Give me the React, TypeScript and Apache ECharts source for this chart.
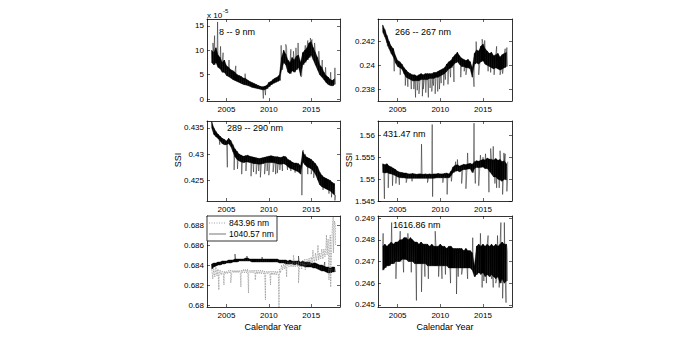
import React, { useEffect, useRef } from "react";
import * as echarts from "echarts";

const T0 = 2003.25;
const DT = 0.25;
const X_MIN = 2002.7;
const X_MAX = 2018.4;
const yearTicks = [2005, 2010, 2015];

// Panel 1: 8 -- 9 nm (units of 1e-5)
const p1Hi = [10, 9.5, 10.5, 9, 8.5, 7.5, 8, 6.8, 6.5, 6, 5.8, 5.5, 5, 4.8, 4.6, 4.3, 4.2, 3.9, 3.6, 3.4, 3.2, 3.0, 2.8, 2.6, 2.5, 2.6, 2.8, 3.4, 3.6, 4.0, 4.3, 4.5, 5.0, 8.5, 10, 9.2, 8.0, 7.5, 8.5, 8.0, 8.8, 9, 7.5, 9.5, 10, 10.5, 11.5, 11.8, 10.5, 9.5, 8.5, 7, 6.5, 5.5, 4.8, 4.5, 4.0, 3.8, 4.2];
const p1Lo = [7.5, 7, 7.5, 6.5, 6.2, 5.5, 5.5, 4.8, 4.6, 4.3, 4.0, 3.8, 3.6, 3.4, 3.2, 3.0, 2.9, 2.8, 2.6, 2.4, 2.3, 2.2, 2.1, 2.0, 1.9, 1.9, 2.1, 2.5, 2.9, 3.2, 3.4, 3.6, 3.8, 6.0, 7.5, 7.0, 5.5, 5.2, 5.8, 5.5, 6.0, 6.5, 4.8, 7.0, 7.5, 8.0, 8.5, 9.0, 8.0, 7.0, 6.0, 5.0, 4.5, 4.0, 3.4, 3.0, 2.8, 2.7, 3.0];
const p1Spikes = [[2003.4, 11.5], [2003.6, 13.0], [2003.95, 15.8], [2004.3, 10.8], [2004.6, 9.5], [2005.3, 8.0], [2006.1, 6.8], [2007.2, 5.2], [2009.35, 0.1], [2009.6, 0.8], [2011.45, 11.0], [2012.0, 11.2], [2012.1, 10.5], [2012.6, 10.2], [2012.9, 9.8], [2013.2, 10.5], [2013.45, 11.5], [2013.8, 4.5], [2014.3, 11.0], [2014.6, 12.0], [2014.9, 12.5], [2015.1, 12.2], [2015.4, 11.5], [2015.9, 9.8], [2016.3, 8], [2016.7, 6.5], [2017.3, 5.5], [2017.8, 6.4]];

// Panel 2: 266 -- 267 nm
const p2Hi = [0.2434, 0.2430, 0.2425, 0.2420, 0.2416, 0.2414, 0.2408, 0.2404, 0.2403, 0.2401, 0.2398, 0.2396, 0.2394, 0.2393, 0.2392, 0.2392, 0.2391, 0.2392, 0.2393, 0.2392, 0.2393, 0.2393, 0.2393, 0.2393, 0.2394, 0.2394, 0.2395, 0.2396, 0.2397, 0.2398, 0.2401, 0.2403, 0.2404, 0.2407, 0.2409, 0.2411, 0.2408, 0.2406, 0.2405, 0.2404, 0.2405, 0.2403, 0.2398, 0.2410, 0.2413, 0.2412, 0.2416, 0.2418, 0.2414, 0.2412, 0.2410, 0.2411, 0.2408, 0.2409, 0.2410, 0.2407, 0.2409, 0.2410, 0.2411];
const p2Lo = [0.2428, 0.2424, 0.2419, 0.2414, 0.2410, 0.2407, 0.2402, 0.2399, 0.2398, 0.2397, 0.2393, 0.2390, 0.2389, 0.2388, 0.2387, 0.2387, 0.2387, 0.2387, 0.2388, 0.2388, 0.2388, 0.2388, 0.2389, 0.2389, 0.2389, 0.2390, 0.2390, 0.2391, 0.2392, 0.2393, 0.2395, 0.2397, 0.2398, 0.2400, 0.2402, 0.2403, 0.2401, 0.2399, 0.2399, 0.2398, 0.2398, 0.2397, 0.2390, 0.2401, 0.2402, 0.2401, 0.2403, 0.2404, 0.2401, 0.2400, 0.2399, 0.2398, 0.2397, 0.2398, 0.2397, 0.2396, 0.2397, 0.2398, 0.2399];
const p2Spikes = [[2003.8, 0.2416], [2004.6, 0.2395], [2005.3, 0.2392], [2005.9, 0.2383], [2006.2, 0.2382], [2006.6, 0.2380], [2006.9, 0.2380], [2007.1, 0.2373], [2007.3, 0.2379], [2007.5, 0.2376], [2007.9, 0.2374], [2008.0, 0.2380], [2008.3, 0.2377], [2008.6, 0.2373], [2008.8, 0.2381], [2009.0, 0.2378], [2009.2, 0.2383], [2009.4, 0.2376], [2009.7, 0.2378], [2009.9, 0.2380], [2010.1, 0.2385], [2010.4, 0.2383], [2010.6, 0.2388], [2010.9, 0.2384], [2011.2, 0.2390], [2011.6, 0.2386], [2012.4, 0.2390], [2012.8, 0.2395], [2013.0, 0.2392], [2013.95, 0.2382], [2014.2, 0.2420], [2014.5, 0.2392], [2014.9, 0.2422], [2015.2, 0.2421], [2015.6, 0.2395], [2015.9, 0.2394], [2016.3, 0.2392], [2016.6, 0.2416], [2017.0, 0.2392], [2017.3, 0.2393], [2017.6, 0.2414], [2017.8, 0.2415]];

// Panel 3: 289 -- 290 nm
const p3Hi = [0.4362, 0.4350, 0.4343, 0.4338, 0.4334, 0.4330, 0.4328, 0.4325, 0.4330, 0.4326, 0.4318, 0.4310, 0.4305, 0.4300, 0.4298, 0.4296, 0.4297, 0.4298, 0.4296, 0.4295, 0.4294, 0.4293, 0.4292, 0.4292, 0.4293, 0.4294, 0.4295, 0.4296, 0.4297, 0.4296, 0.4295, 0.4295, 0.4294, 0.4294, 0.4296, 0.4295, 0.4290, 0.4288, 0.4285, 0.4283, 0.4283, 0.4282, 0.4278, 0.4305, 0.4298, 0.4294, 0.4292, 0.4290, 0.4286, 0.4282, 0.4276, 0.4266, 0.4260, 0.4256, 0.4254, 0.4252, 0.4250, 0.4246, 0.4244];
const p3Lo = [0.4350, 0.4338, 0.4333, 0.4330, 0.4325, 0.4320, 0.4318, 0.4318, 0.4320, 0.4315, 0.4305, 0.4295, 0.4290, 0.4287, 0.4285, 0.4284, 0.4285, 0.4285, 0.4284, 0.4283, 0.4282, 0.4282, 0.4281, 0.4281, 0.4282, 0.4283, 0.4284, 0.4284, 0.4284, 0.4284, 0.4283, 0.4282, 0.4281, 0.4281, 0.4282, 0.4280, 0.4276, 0.4273, 0.4272, 0.4270, 0.4268, 0.4266, 0.4262, 0.4285, 0.4280, 0.4276, 0.4274, 0.4272, 0.4268, 0.4262, 0.4252, 0.4242, 0.4238, 0.4236, 0.4234, 0.4232, 0.4230, 0.4226, 0.4222];
const p3Spikes = [[2004.2, 0.4318], [2005.1, 0.4275], [2005.9, 0.4270], [2006.3, 0.4272], [2006.8, 0.4262], [2007.3, 0.4268], [2007.9, 0.4258], [2008.2, 0.4266], [2008.5, 0.4262], [2008.8, 0.4268], [2009.0, 0.4256], [2009.5, 0.4262], [2009.8, 0.4268], [2010.0, 0.4260], [2010.5, 0.4266], [2010.8, 0.4262], [2011.0, 0.4264], [2011.3, 0.4270], [2011.6, 0.4268], [2012.2, 0.4270], [2012.6, 0.4268], [2013.1, 0.4265], [2013.9, 0.4222], [2014.05, 0.4308], [2014.3, 0.4300], [2014.6, 0.4262], [2015.0, 0.4262], [2015.3, 0.4255], [2015.6, 0.4268], [2016.0, 0.4258], [2016.4, 0.4232], [2016.8, 0.4235], [2017.1, 0.4225], [2017.4, 0.4218], [2017.8, 0.4212]];

// Panel 4: 431.47 nm
const p4Hi = [1.5535, 1.5533, 1.5535, 1.5530, 1.5528, 1.5525, 1.5522, 1.5518, 1.5516, 1.5515, 1.5514, 1.5514, 1.5512, 1.5512, 1.5513, 1.5512, 1.5511, 1.5512, 1.5512, 1.5511, 1.5512, 1.5511, 1.5512, 1.5511, 1.5512, 1.5512, 1.5513, 1.5512, 1.5512, 1.5513, 1.5514, 1.5512, 1.5518, 1.5528, 1.5532, 1.5533, 1.5530, 1.5532, 1.5534, 1.5533, 1.5535, 1.5536, 1.5534, 1.5540, 1.5542, 1.5541, 1.5543, 1.5545, 1.5544, 1.5548, 1.5546, 1.5545, 1.5544, 1.5547, 1.5543, 1.5545, 1.5540, 1.5542, 1.5535];
const p4Lo = [1.5515, 1.5514, 1.5515, 1.5513, 1.5512, 1.5510, 1.5508, 1.5505, 1.5504, 1.5503, 1.5503, 1.5502, 1.5502, 1.5502, 1.5502, 1.5502, 1.5502, 1.5502, 1.5502, 1.5502, 1.5502, 1.5502, 1.5502, 1.5502, 1.5502, 1.5503, 1.5503, 1.5503, 1.5503, 1.5503, 1.5503, 1.5503, 1.5508, 1.5515, 1.5518, 1.5519, 1.5517, 1.5520, 1.5522, 1.5522, 1.5523, 1.5524, 1.5515, 1.5524, 1.5527, 1.5526, 1.5527, 1.5528, 1.5524, 1.5525, 1.5518, 1.5512, 1.5505, 1.5505, 1.5500, 1.5498, 1.5495, 1.5500, 1.5498];
const p4Spikes = [[2003.45, 1.5455], [2003.9, 1.5480], [2004.4, 1.5485], [2004.8, 1.5490], [2005.2, 1.5487], [2006.0, 1.5492], [2006.7, 1.5495], [2007.8, 1.5580], [2008.5, 1.5492], [2009.05, 1.5625], [2009.1, 1.5460], [2010.3, 1.5492], [2010.8, 1.5465], [2011.3, 1.5495], [2011.8, 1.5540], [2012.0, 1.5545], [2012.5, 1.5490], [2013.0, 1.5478], [2013.2, 1.5560], [2013.95, 1.5628], [2014.1, 1.5490], [2014.5, 1.5485], [2014.7, 1.5555], [2015.0, 1.5550], [2015.3, 1.5558], [2015.7, 1.5470], [2015.9, 1.5570], [2016.2, 1.5575], [2016.4, 1.5490], [2016.6, 1.5480], [2016.9, 1.5480], [2017.0, 1.5565], [2017.3, 1.5465], [2017.45, 1.5560], [2017.6, 1.5558], [2017.8, 1.5472], [2017.9, 1.5540]];

// Panel 5: 843.96 nm (dotted) and 1040.57 nm (solid)
const p5aHi = [0.6838, 0.6836, 0.6838, 0.6836, 0.6835, 0.6834, 0.6834, 0.6834, 0.6835, 0.6835, 0.6835, 0.6835, 0.6835, 0.6835, 0.6835, 0.6836, 0.6836, 0.6836, 0.6835, 0.6835, 0.6835, 0.6835, 0.6835, 0.6835, 0.6835, 0.6834, 0.6834, 0.6834, 0.6834, 0.6834, 0.6834, 0.6834, 0.6836, 0.6840, 0.6841, 0.6842, 0.6843, 0.6843, 0.6843, 0.6844, 0.6844, 0.6845, 0.6843, 0.6845, 0.6846, 0.6846, 0.6847, 0.6848, 0.6849, 0.6852, 0.6853, 0.6852, 0.6856, 0.6856, 0.6860, 0.6866, 0.6870, 0.6878, 0.6884];
const p5aLo = [0.6826, 0.6828, 0.6829, 0.6830, 0.6830, 0.6831, 0.6831, 0.6831, 0.6832, 0.6832, 0.6832, 0.6832, 0.6832, 0.6832, 0.6832, 0.6832, 0.6832, 0.6832, 0.6832, 0.6832, 0.6831, 0.6831, 0.6831, 0.6831, 0.6831, 0.6831, 0.6831, 0.6831, 0.6830, 0.6830, 0.6830, 0.6830, 0.6832, 0.6835, 0.6836, 0.6837, 0.6838, 0.6838, 0.6838, 0.6838, 0.6838, 0.6839, 0.6836, 0.6838, 0.6839, 0.6840, 0.6840, 0.6841, 0.6842, 0.6844, 0.6845, 0.6846, 0.6846, 0.6848, 0.6850, 0.6840, 0.6845, 0.6852, 0.6860];
const p5aSpikes = [[2004.1, 0.6815], [2004.7, 0.6820], [2005.5, 0.6822], [2006.7, 0.6818], [2007.6, 0.6812], [2008.4, 0.6825], [2009.6, 0.6805], [2010.2, 0.6820], [2011.2, 0.6797], [2012.1, 0.6828], [2012.9, 0.6850], [2013.5, 0.6822], [2014.3, 0.6835], [2015.2, 0.6855], [2015.8, 0.6860], [2016.8, 0.6870], [2017.1, 0.6825], [2017.3, 0.6818], [2017.6, 0.6888], [2017.85, 0.6880]];
const p5bHi = [0.6841, 0.6842, 0.6842, 0.6843, 0.6843, 0.6844, 0.6844, 0.6844, 0.6845, 0.6845, 0.6845, 0.6846, 0.6846, 0.6846, 0.6846, 0.6846, 0.6847, 0.6847, 0.6846, 0.6846, 0.6846, 0.6846, 0.6846, 0.6846, 0.6846, 0.6846, 0.6846, 0.6846, 0.6846, 0.6846, 0.6846, 0.6846, 0.6845, 0.6845, 0.6845, 0.6845, 0.6844, 0.6845, 0.6844, 0.6844, 0.6844, 0.6844, 0.6843, 0.6844, 0.6843, 0.6843, 0.6843, 0.6842, 0.6842, 0.6842, 0.6841, 0.6840, 0.6840, 0.6839, 0.6838, 0.6838, 0.6837, 0.6838, 0.6838];
const p5bLo = [0.6836, 0.6838, 0.6839, 0.6840, 0.6840, 0.6841, 0.6841, 0.6842, 0.6842, 0.6842, 0.6843, 0.6843, 0.6843, 0.6844, 0.6844, 0.6844, 0.6844, 0.6844, 0.6844, 0.6843, 0.6843, 0.6843, 0.6843, 0.6843, 0.6843, 0.6843, 0.6843, 0.6843, 0.6843, 0.6843, 0.6843, 0.6843, 0.6842, 0.6842, 0.6842, 0.6841, 0.6841, 0.6841, 0.6841, 0.6840, 0.6841, 0.6840, 0.6839, 0.6839, 0.6838, 0.6838, 0.6838, 0.6838, 0.6837, 0.6837, 0.6836, 0.6835, 0.6834, 0.6834, 0.6833, 0.6832, 0.6832, 0.6833, 0.6833];
const p5bSpikes = [[2006.0, 0.6851], [2007.4, 0.6849], [2009.2, 0.6848], [2013.5, 0.6849], [2016.6, 0.6843]];

// Panel 6: 1616.86 nm
const p6Hi = [0.2477, 0.2478, 0.2477, 0.2478, 0.2479, 0.2478, 0.2479, 0.2479, 0.2480, 0.2480, 0.2481, 0.2481, 0.2480, 0.2481, 0.2480, 0.2479, 0.2479, 0.2478, 0.2479, 0.2478, 0.2478, 0.2478, 0.2477, 0.2478, 0.2477, 0.2477, 0.2477, 0.2478, 0.2477, 0.2477, 0.2476, 0.2477, 0.2477, 0.2476, 0.2476, 0.2476, 0.2476, 0.2476, 0.2475, 0.2476, 0.2475, 0.2475, 0.2474, 0.2468, 0.2477, 0.2478, 0.2477, 0.2478, 0.2477, 0.2478, 0.2477, 0.2478, 0.2477, 0.2478, 0.2477, 0.2478, 0.2479, 0.2478, 0.2478];
const p6Lo = [0.2466, 0.2467, 0.2468, 0.2468, 0.2469, 0.2469, 0.2470, 0.2470, 0.2470, 0.2471, 0.2471, 0.2471, 0.2470, 0.2470, 0.2470, 0.2469, 0.2469, 0.2469, 0.2469, 0.2469, 0.2469, 0.2468, 0.2468, 0.2468, 0.2468, 0.2468, 0.2468, 0.2468, 0.2468, 0.2468, 0.2468, 0.2467, 0.2467, 0.2467, 0.2467, 0.2467, 0.2467, 0.2467, 0.2467, 0.2467, 0.2467, 0.2467, 0.2466, 0.2463, 0.2464, 0.2465, 0.2464, 0.2465, 0.2463, 0.2464, 0.2463, 0.2464, 0.2463, 0.2462, 0.2463, 0.2460, 0.2462, 0.2460, 0.2461];
const p6Spikes = [[2003.3, 0.2483], [2004.3, 0.2488], [2004.8, 0.2462], [2005.3, 0.2484], [2005.7, 0.2465], [2006.2, 0.2483], [2006.6, 0.2465], [2007.2, 0.2452], [2007.8, 0.2456], [2008.2, 0.2463], [2008.6, 0.2462], [2009.4, 0.2484], [2009.8, 0.2463], [2010.2, 0.2462], [2010.6, 0.2464], [2011.2, 0.2460], [2011.9, 0.2455], [2012.1, 0.2463], [2012.5, 0.2464], [2013.2, 0.2462], [2013.8, 0.2481], [2014.7, 0.2483], [2014.9, 0.2458], [2015.1, 0.2461], [2015.4, 0.2460], [2015.6, 0.2482], [2016.0, 0.2462], [2016.2, 0.2458], [2016.5, 0.2460], [2016.7, 0.2482], [2016.9, 0.2458], [2017.1, 0.2488], [2017.2, 0.2463], [2017.3, 0.2453], [2017.5, 0.2488], [2017.7, 0.2451], [2017.85, 0.2475]];

const p1Ticks = [0, 5, 10, 15];
const p2Ticks = [0.238, 0.24, 0.242];
const p3Ticks = [0.425, 0.43, 0.435];
const p4Ticks = [1.545, 1.55, 1.555, 1.56];
const p5Ticks = [0.68, 0.682, 0.684, 0.686, 0.688];
const p6Ticks = [0.245, 0.246, 0.247, 0.248, 0.249];

const FONT = "Liberation Sans, Arial, Helvetica, sans-serif";

function zigzag(hi: number[], lo: number[], spikes: number[][]) {
  const pts: number[][] = [];
  hi.forEach((h, i) => {
    const t = T0 + i * DT;
    pts.push([t, h]);
    pts.push([t + DT / 2, lo[i]]);
  });
  spikes.forEach((s) => pts.push(s));
  pts.sort((a, b) => a[0] - b[0]);
  return pts;
}

// segments of the envelope band: [t, lo, hi, tNext, loNext, hiNext]
function bandSegments(hi: number[], lo: number[]) {
  const segs: number[][] = [];
  for (let i = 0; i < hi.length - 1; i++) {
    segs.push([T0 + i * DT, lo[i], hi[i], T0 + (i + 1) * DT, lo[i + 1], hi[i + 1]]);
  }
  return segs;
}

const grids = [
  { left: 207, top: 19, width: 133, height: 82 },
  { left: 378, top: 19, width: 134, height: 82 },
  { left: 207, top: 121, width: 133, height: 80 },
  { left: 378, top: 121, width: 134, height: 80 },
  { left: 207, top: 216, width: 133, height: 91 },
  { left: 378, top: 216, width: 134, height: 91 },
];

const yRanges: [number, number, number[]][] = [
  [-0.4, 16.4, p1Ticks],
  [0.237, 0.2439, p2Ticks],
  [0.4211, 0.4363, p3Ticks],
  [1.545, 1.5633, p4Ticks],
  [0.6798, 0.6889, p5Ticks],
  [0.2449, 0.2491, p6Ticks],
];

const fmt = (v: number) => String(Math.round(v * 1e6) / 1e6);

export default function App() {
  const ref = useRef<HTMLDivElement>(null);
  useEffect(() => {
    if (!ref.current) return;
    const chart = echarts.init(ref.current, undefined, { renderer: "svg" });
    const lineAx = { show: true, lineStyle: { color: "#000", width: 0.8 } };
    const tick = (vals: number[]) => ({
      show: true, inside: true, length: 3, customValues: vals, lineStyle: { color: "#000", width: 0.6 },
    });
    const xAxis: any[] = [];
    const yAxis: any[] = [];
    grids.forEach((_, g) => {
      const [ymin, ymax, yt] = yRanges[g];
      xAxis.push({
        type: "value", gridIndex: g, min: X_MIN, max: X_MAX, position: "bottom", z: 10,
        axisLine: { ...lineAx, onZero: false }, splitLine: { show: false },
        axisTick: tick(yearTicks),
        axisLabel: { show: true, customValues: yearTicks, fontSize: 8, color: "#000", fontFamily: FONT, margin: 4, formatter: (v: number) => String(v) },
      });
      xAxis.push({
        type: "value", gridIndex: g, min: X_MIN, max: X_MAX, position: "top", z: 10,
        axisLine: { ...lineAx, onZero: false }, splitLine: { show: false },
        axisTick: tick(yearTicks), axisLabel: { show: false },
      });
      yAxis.push({
        type: "value", gridIndex: g, min: ymin, max: ymax, position: "left", z: 10,
        axisLine: { ...lineAx, onZero: false }, splitLine: { show: false },
        axisTick: tick(yt),
        axisLabel: { show: true, customValues: yt, fontSize: 8, color: "#000", fontFamily: FONT, margin: 3, formatter: (v: number) => fmt(v) },
      });
      yAxis.push({
        type: "value", gridIndex: g, min: ymin, max: ymax, position: "right", z: 10,
        axisLine: { ...lineAx, onZero: false }, splitLine: { show: false },
        axisTick: tick(yt), axisLabel: { show: false },
      });
    });

    const base = (g: number) => ({
      type: "line", xAxisIndex: 2 * g, yAxisIndex: 2 * g, showSymbol: false, symbol: "none", silent: true,
    });
    const bandSeries = (g: number, hi: number[], lo: number[], spikes: number[][], color: string) => [
      {
        type: "custom", xAxisIndex: 2 * g, yAxisIndex: 2 * g, silent: true,
        encode: { x: [0, 3], y: [1, 2, 4, 5] },
        data: bandSegments(hi, lo),
        renderItem: (_p: any, api: any) => {
          const a = api.coord([api.value(0), api.value(1)]);
          const b = api.coord([api.value(0), api.value(2)]);
          const c = api.coord([api.value(3), api.value(5)]);
          const d = api.coord([api.value(3), api.value(4)]);
          return {
            type: "polygon",
            shape: { points: [a, b, c, d] },
            style: { fill: color, stroke: color, lineWidth: 0.4 },
          };
        },
      },
      { ...base(g), lineStyle: { width: 0.45, color }, data: zigzag(hi, lo, spikes) },
    ];

    const series = [
      ...bandSeries(0, p1Hi, p1Lo, p1Spikes, "#000"),
      ...bandSeries(1, p2Hi, p2Lo, p2Spikes, "#000"),
      ...bandSeries(2, p3Hi, p3Lo, p3Spikes, "#000"),
      ...bandSeries(3, p4Hi, p4Lo, p4Spikes, "#000"),
      { ...base(4), lineStyle: { width: 0.8, color: "#888", type: "dotted" }, data: zigzag(p5aHi, p5aLo, p5aSpikes) },
      ...bandSeries(4, p5bHi, p5bLo, p5bSpikes, "#000"),
      ...bandSeries(5, p6Hi, p6Lo, p6Spikes, "#000"),
    ];

    const txt = (x: number, y: number, text: string, size = 9, align = "left", extra: any = {}) => ({
      type: "text", x, y, z: 100,
      style: { text, fontSize: size, fontFamily: FONT, fill: "#000", textAlign: align, textVerticalAlign: "middle" },
      ...extra,
    });

    const graphic: any[] = [
      txt(207, 15, "x 10", 8),
      txt(223, 11, "-5", 6),
      txt(219, 32, "8 -- 9 nm", 9),
      txt(395, 32, "266 -- 267 nm", 9),
      txt(227, 128, "289 -- 290 nm", 9),
      txt(383, 134, "431.47 nm", 9),
      txt(393, 225, "1616.86 nm", 9),
      txt(178, 160, "SSI", 9, "center", { rotation: Math.PI / 2 }),
      txt(349, 160, "SSI", 9, "center", { rotation: Math.PI / 2 }),
      txt(273, 327, "Calendar Year", 9, "center"),
      txt(445, 327, "Calendar Year", 9, "center"),
      {
        type: "rect", z: 99, shape: { x: 207, y: 216, width: 70, height: 25 },
        style: { fill: "#fff", stroke: "#000", lineWidth: 0.8 },
      },
      {
        type: "line", z: 100, shape: { x1: 209, y1: 223, x2: 226, y2: 223 },
        style: { stroke: "#888", lineWidth: 0.8, lineDash: [1, 1.5] },
      },
      {
        type: "line", z: 100, shape: { x1: 209, y1: 234, x2: 226, y2: 234 },
        style: { stroke: "#777", lineWidth: 1 },
      },
      txt(229, 223, "843.96 nm", 8.5),
      txt(229, 234, "1040.57 nm", 8.5),
    ];

    chart.setOption({
      animation: false,
      backgroundColor: "#fff",
      grid: grids.map((g) => ({ ...g, containLabel: false })),
      xAxis,
      yAxis,
      series,
      graphic,
    });
    return () => chart.dispose();
  }, []);
  return (
    <div
      ref={ref}
      style={{ position: "absolute", left: 0, top: 0, width: 698, height: 342 }}
    />
  );
}
